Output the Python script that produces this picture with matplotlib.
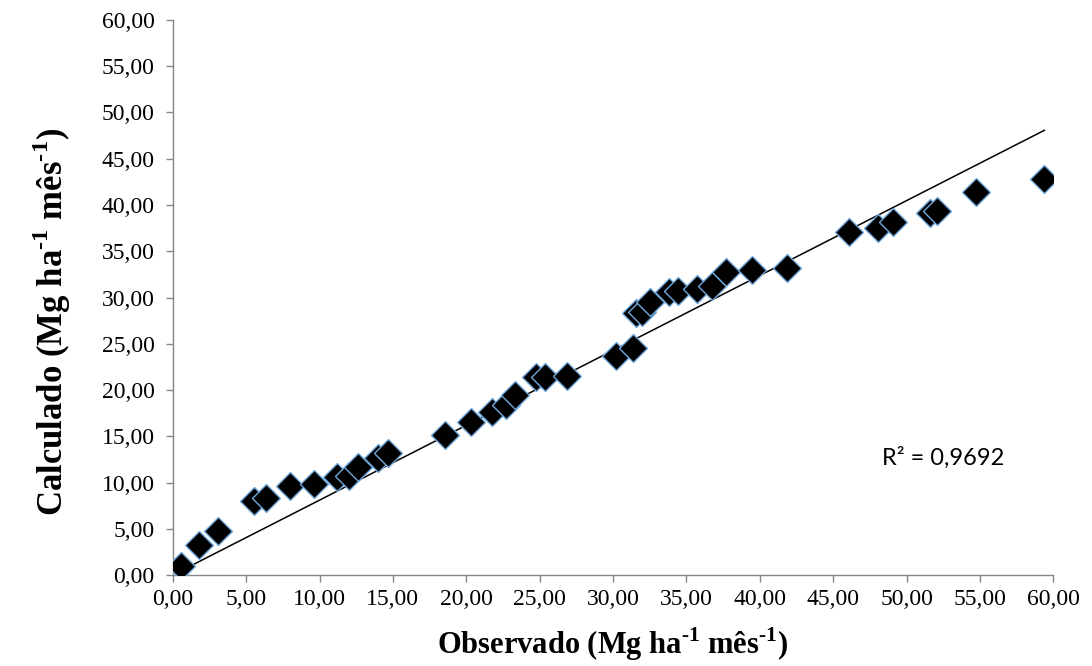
import numpy as np
import matplotlib
matplotlib.use("Agg")
import matplotlib.pyplot as plt
from matplotlib.ticker import MultipleLocator, FuncFormatter

# valores (Mg ha-1 mes-1)
observado = [0.57, 1.82, 3.07, 5.52, 6.37, 7.96, 9.61, 11.18, 11.98, 12.61,
             13.98, 14.66, 18.52, 20.35, 21.75, 22.73, 23.30, 24.73, 25.34, 26.89,
             30.23, 31.36, 31.53, 31.94, 32.50, 33.82, 34.43, 35.69, 36.71, 37.73,
             39.44, 41.86, 46.07, 48.07, 49.05, 51.59, 52.05, 54.73, 59.39]
calculado = [1.00, 3.24, 4.76, 8.04, 8.30, 9.65, 9.80, 10.63, 10.74, 11.70,
             12.68, 13.16, 15.14, 16.50, 17.60, 18.38, 19.46, 21.44, 21.37, 21.55,
             23.68, 24.57, 28.29, 28.46, 29.48, 30.56, 30.74, 30.92, 31.24, 32.79,
             32.97, 33.22, 37.05, 37.48, 38.13, 39.10, 39.38, 41.44, 42.81]
r2_texto = "R² = 0,9692"

plt.rcParams['font.family'] = ['Liberation Serif', 'DejaVu Serif']
plt.rcParams['mathtext.fontset'] = 'custom'
plt.rcParams['mathtext.rm'] = 'Liberation Serif'
plt.rcParams['mathtext.bf'] = 'Liberation Serif:bold'

fig = plt.figure(figsize=(10.92, 6.66), dpi=100)
ax = fig.add_axes([0.1582, 0.1366, 0.8064, 0.8334])

x = np.array(observado)
y = np.array(calculado)

# tendencia linear com intercepto = 0 (opcao do Excel)
b = np.sum(x * y) / np.sum(x * x)
xs = np.array([x.min(), x.max()])
ax.plot(xs, b * xs, color='black', lw=1.1, zorder=2)

ax.plot(x, y, linestyle='none', marker='D', markersize=14,
        markerfacecolor='black', markeredgecolor='#6fa8dc',
        markeredgewidth=1.0, zorder=3)

ax.text(48.3, 12.7, r2_texto, fontsize=17, family=['Lato', 'DejaVu Sans'],
        ha='left', va='center')

ax.set_xlim(0, 60)
ax.set_ylim(0, 60)
ax.xaxis.set_major_locator(MultipleLocator(5))
ax.yaxis.set_major_locator(MultipleLocator(5))
fmt = FuncFormatter(lambda v, p: f"{v:.2f}".replace('.', ','))
ax.xaxis.set_major_formatter(fmt)
ax.yaxis.set_major_formatter(fmt)

for s in ['top', 'right']:
    ax.spines[s].set_visible(False)
for s in ['left', 'bottom']:
    ax.spines[s].set_color('#868686')
    ax.spines[s].set_linewidth(1.0)
ax.tick_params(axis='both', direction='out', length=5, width=1.0,
               color='#868686', labelsize=17, labelcolor='black')
ax.tick_params(axis='y', pad=8)
ax.tick_params(axis='x', pad=5)

sup = '$^{\\mathbf{\u20101}}$'
ax.set_xlabel('Observado (Mg ha' + sup + ' mês' + sup + ')',
              fontsize=22, fontweight='bold')
ax.xaxis.set_label_coords(0.5, -0.091)
ax.set_ylabel('Calculado (Mg ha' + sup + ' mês' + sup + ')',
              fontsize=25, fontweight='bold')
ax.yaxis.set_label_coords(-0.113, 0.456)

fig.savefig('out.png', dpi=100)
